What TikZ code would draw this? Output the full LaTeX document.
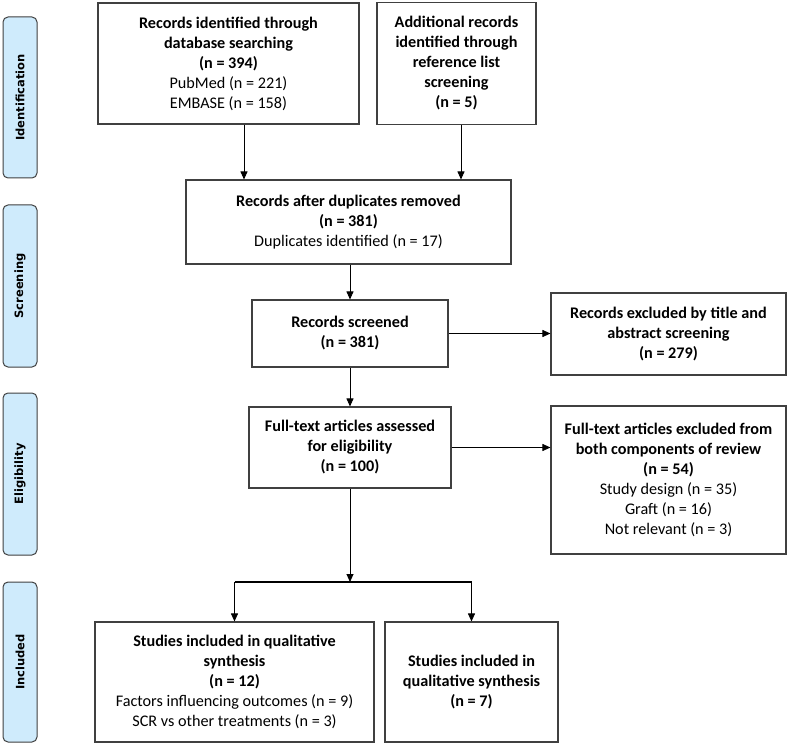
\documentclass[tikz,border=0pt]{standalone}
\usepackage{fontspec}
\setmainfont{Carlito}
\newfontfamily\sidefont{DejaVu Sans}
\usetikzlibrary{arrows.meta,calc}
\definecolor{sideblue}{RGB}{207,235,252}
\definecolor{boxline}{RGB}{64,64,64}
\begin{document}
\begin{tikzpicture}[x=1pt,y=-1pt,
  box/.style={draw=boxline,line width=1.1pt,fill=white,inner sep=2pt,align=center,
    font=\fontsize{16.2}{20}\selectfont},
  side/.style={draw=boxline,line width=1pt,fill=sideblue,rounded corners=5pt,rotate=90,
    minimum height=34pt,inner sep=0pt,font=\sidefont\bfseries\fontsize{11.5}{13}\selectfont},
  arr/.style={line width=0.9pt,-{Triangle[length=8pt,width=7pt]}},
]
\useasboundingbox (0,0) rectangle (790,746);

% phase labels
\node[side,minimum width=161pt] (sid) at (20,97.5) {Identification};
\node[side,minimum width=162pt] (ssc) at (20,286) {Screening};
\node[side,minimum width=162pt] (sel) at (20,474) {Eligibility};
\node[side,minimum width=160pt] (sin) at (20,662) {Included};

% boxes
\node[box,minimum width=261pt,minimum height=121pt] (A) at (228.5,63.5)
  {\textbf{Records identified through}\\\textbf{database searching}\\\textbf{(n = 394)}\\PubMed (n = 221)\\EMBASE (n = 158)};
\node[box,minimum width=159pt,minimum height=122pt] (B) at (456.5,63.5)
  {\textbf{Additional records}\\\textbf{identified through}\\\textbf{reference list}\\\textbf{screening}\\\textbf{(n = 5)}};
\node[box,minimum width=325pt,minimum height=84pt] (C) at (348.5,222)
  {\textbf{Records after duplicates removed}\\\textbf{(n = 381)}\\Duplicates identified (n = 17)};
\node[box,minimum width=196pt,minimum height=67pt] (D) at (350,333.5)
  {\textbf{Records screened}\\\textbf{(n = 381)}};
\node[box,minimum width=235pt,minimum height=82pt] (E) at (668.5,334)
  {\textbf{Records excluded by title and}\\\textbf{abstract screening}\\\textbf{(n = 279)}};
\node[box,minimum width=202pt,minimum height=81pt] (F) at (350,447.5)
  {\textbf{Full-text articles assessed}\\\textbf{for eligibility}\\\textbf{(n = 100)}};
\node[box,minimum width=235pt,minimum height=148pt] (G) at (668.5,480)
  {\textbf{Full-text articles excluded from}\\\textbf{both components of review}\\\textbf{(n = 54)}\\Study design (n = 35)\\Graft (n = 16)\\Not relevant (n = 3)};
\node[box,minimum width=279pt,minimum height=120pt] (H) at (234.5,682)
  {\textbf{Studies included in qualitative}\\\textbf{synthesis}\\\textbf{(n = 12)}\\Factors influencing outcomes (n = 9)\\SCR vs other treatments (n = 3)};
\node[box,minimum width=173pt,minimum height=120pt] (I) at (471.5,682)
  {\textbf{Studies included in}\\\textbf{qualitative synthesis}\\\textbf{(n = 7)}};

% connectors
\coordinate (split) at (350,582);
\draw[arr] ([xshift=15.5pt]A.south) -- ([xshift=15.5pt]A.south |- C.north);
\draw[arr] ([xshift=4.5pt]B.south) -- ([xshift=4.5pt]B.south |- C.north);
\draw[arr] (D.north |- C.south) -- (D.north);
\draw[arr] (D.east) -- (D.east -| E.west);
\draw[arr] (D.south) -- (F.north);
\draw[arr] (F.east) -- (F.east -| G.west);
\draw[arr] (F.south) -- (split);
\draw[line width=2pt] (H.north |- split) -- (I.north |- split);
\draw[arr] (H.north |- split) -- (H.north);
\draw[arr] (I.north |- split) -- (I.north);
\end{tikzpicture}
\end{document}
